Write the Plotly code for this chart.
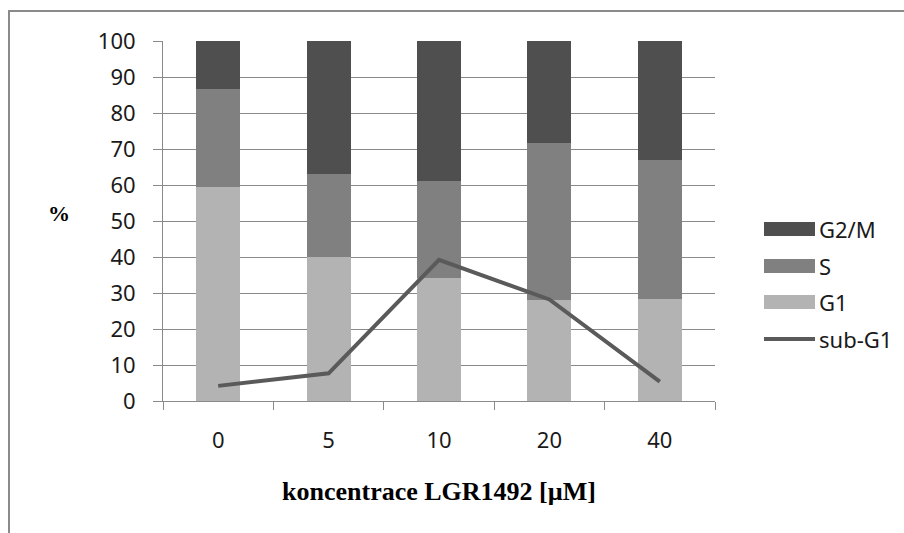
import plotly.graph_objects as go

# ---- data ----
categories = ["0", "5", "10", "20", "40"]
g1 = [59.4, 40.1, 34.1, 28.1, 28.3]
s_phase = [27.2, 22.9, 27.1, 43.7, 38.6]
g2m = [13.4, 37.0, 38.8, 28.2, 33.1]
sub_g1 = [4.2, 7.7, 39.2, 28.2, 5.4]
y_ticks = [0, 10, 20, 30, 40, 50, 60, 70, 80, 90, 100]

series_names = ["G2/M", "S", "G1", "sub-G1"]
col_g2m = "#4f4f4f"
col_s = "#808080"
col_g1 = "#b3b3b3"
col_line = "#5a5a5a"
grid_col = "#8a8a8a"

W, H = 904, 533
L, R, T, B = 163, 715, 41, 401  # plot area in px


def px(xp):
    return (xp - L) / (R - L)


def py(yp):
    return (B - yp) / (B - T)


fig = go.Figure()
fig.add_trace(go.Bar(x=categories, y=g1, name="G1", marker=dict(color=col_g1, line=dict(width=0)),
                     width=0.4, showlegend=False))
fig.add_trace(go.Bar(x=categories, y=s_phase, name="S", marker=dict(color=col_s, line=dict(width=0)),
                     width=0.4, showlegend=False))
fig.add_trace(go.Bar(x=categories, y=g2m, name="G2/M", marker=dict(color=col_g2m, line=dict(width=0)),
                     width=0.4, showlegend=False))
fig.add_trace(go.Scatter(x=categories, y=sub_g1, name="sub-G1", mode="lines",
                         line=dict(color=col_line, width=4), showlegend=False))

tick_font = dict(family="Noto Sans", size=22, color="#1a1a1a")

shapes = []
annotations = []

# outer frame
shapes.append(dict(type="rect", xref="paper", yref="paper",
                   x0=px(9), x1=px(W + 10), y0=py(H + 10), y1=py(11),
                   line=dict(color="#8a8a8a", width=2), fillcolor="rgba(0,0,0,0)", layer="below"))

# custom legend
leg_items = [(series_names[0], col_g2m, 229, "box"),
             (series_names[1], col_s, 266, "box"),
             (series_names[2], col_g1, 302, "box"),
             (series_names[3], col_line, 339, "line")]
for name, col, yc, kind in leg_items:
    if kind == "box":
        shapes.append(dict(type="rect", xref="paper", yref="paper",
                           x0=px(764), x1=px(815), y0=py(yc + 7), y1=py(yc - 7),
                           line=dict(width=0), fillcolor=col))
    else:
        shapes.append(dict(type="line", xref="paper", yref="paper",
                           x0=px(764), x1=px(815), y0=py(yc), y1=py(yc),
                           line=dict(color=col, width=4)))
    annotations.append(dict(text=name, xref="paper", yref="paper", x=px(817), y=py(yc),
                            xanchor="left", yanchor="middle", showarrow=False,
                            font=tick_font))

# y-axis title "%"
annotations.append(dict(text="<b>%</b>", xref="paper", yref="paper", x=px(59), y=py(213),
                        xanchor="center", yanchor="middle", showarrow=False,
                        font=dict(family="Liberation Serif", size=22, color="#000000")))

fig.update_layout(
    width=W, height=H,
    margin=dict(l=L, r=W - R, t=T, b=H - B),
    barmode="stack",
    paper_bgcolor="white", plot_bgcolor="white",
    showlegend=False,
    shapes=shapes,
    annotations=annotations,
    xaxis=dict(type="category", tickson="boundaries", ticks="outside", ticklen=8,
               tickcolor=grid_col, tickwidth=1, showgrid=False,
               showline=True, linecolor=grid_col, linewidth=1,
               tickfont=tick_font, ticklabelstandoff=20,
               title=dict(text="<b>koncentrace LGR1492 [µM]</b>", standoff=28,
                          font=dict(family="Liberation Serif", size=26, color="#000000"))),
    yaxis=dict(range=[0, 100], tickvals=y_ticks, ticks="outside", ticklen=9,
               tickcolor=grid_col, tickwidth=1,
               showgrid=True, gridcolor=grid_col, gridwidth=1,
               showline=True, linecolor=grid_col, linewidth=1,
               zeroline=False, tickfont=tick_font, ticklabelstandoff=13),
)

fig.write_html("out.html")
